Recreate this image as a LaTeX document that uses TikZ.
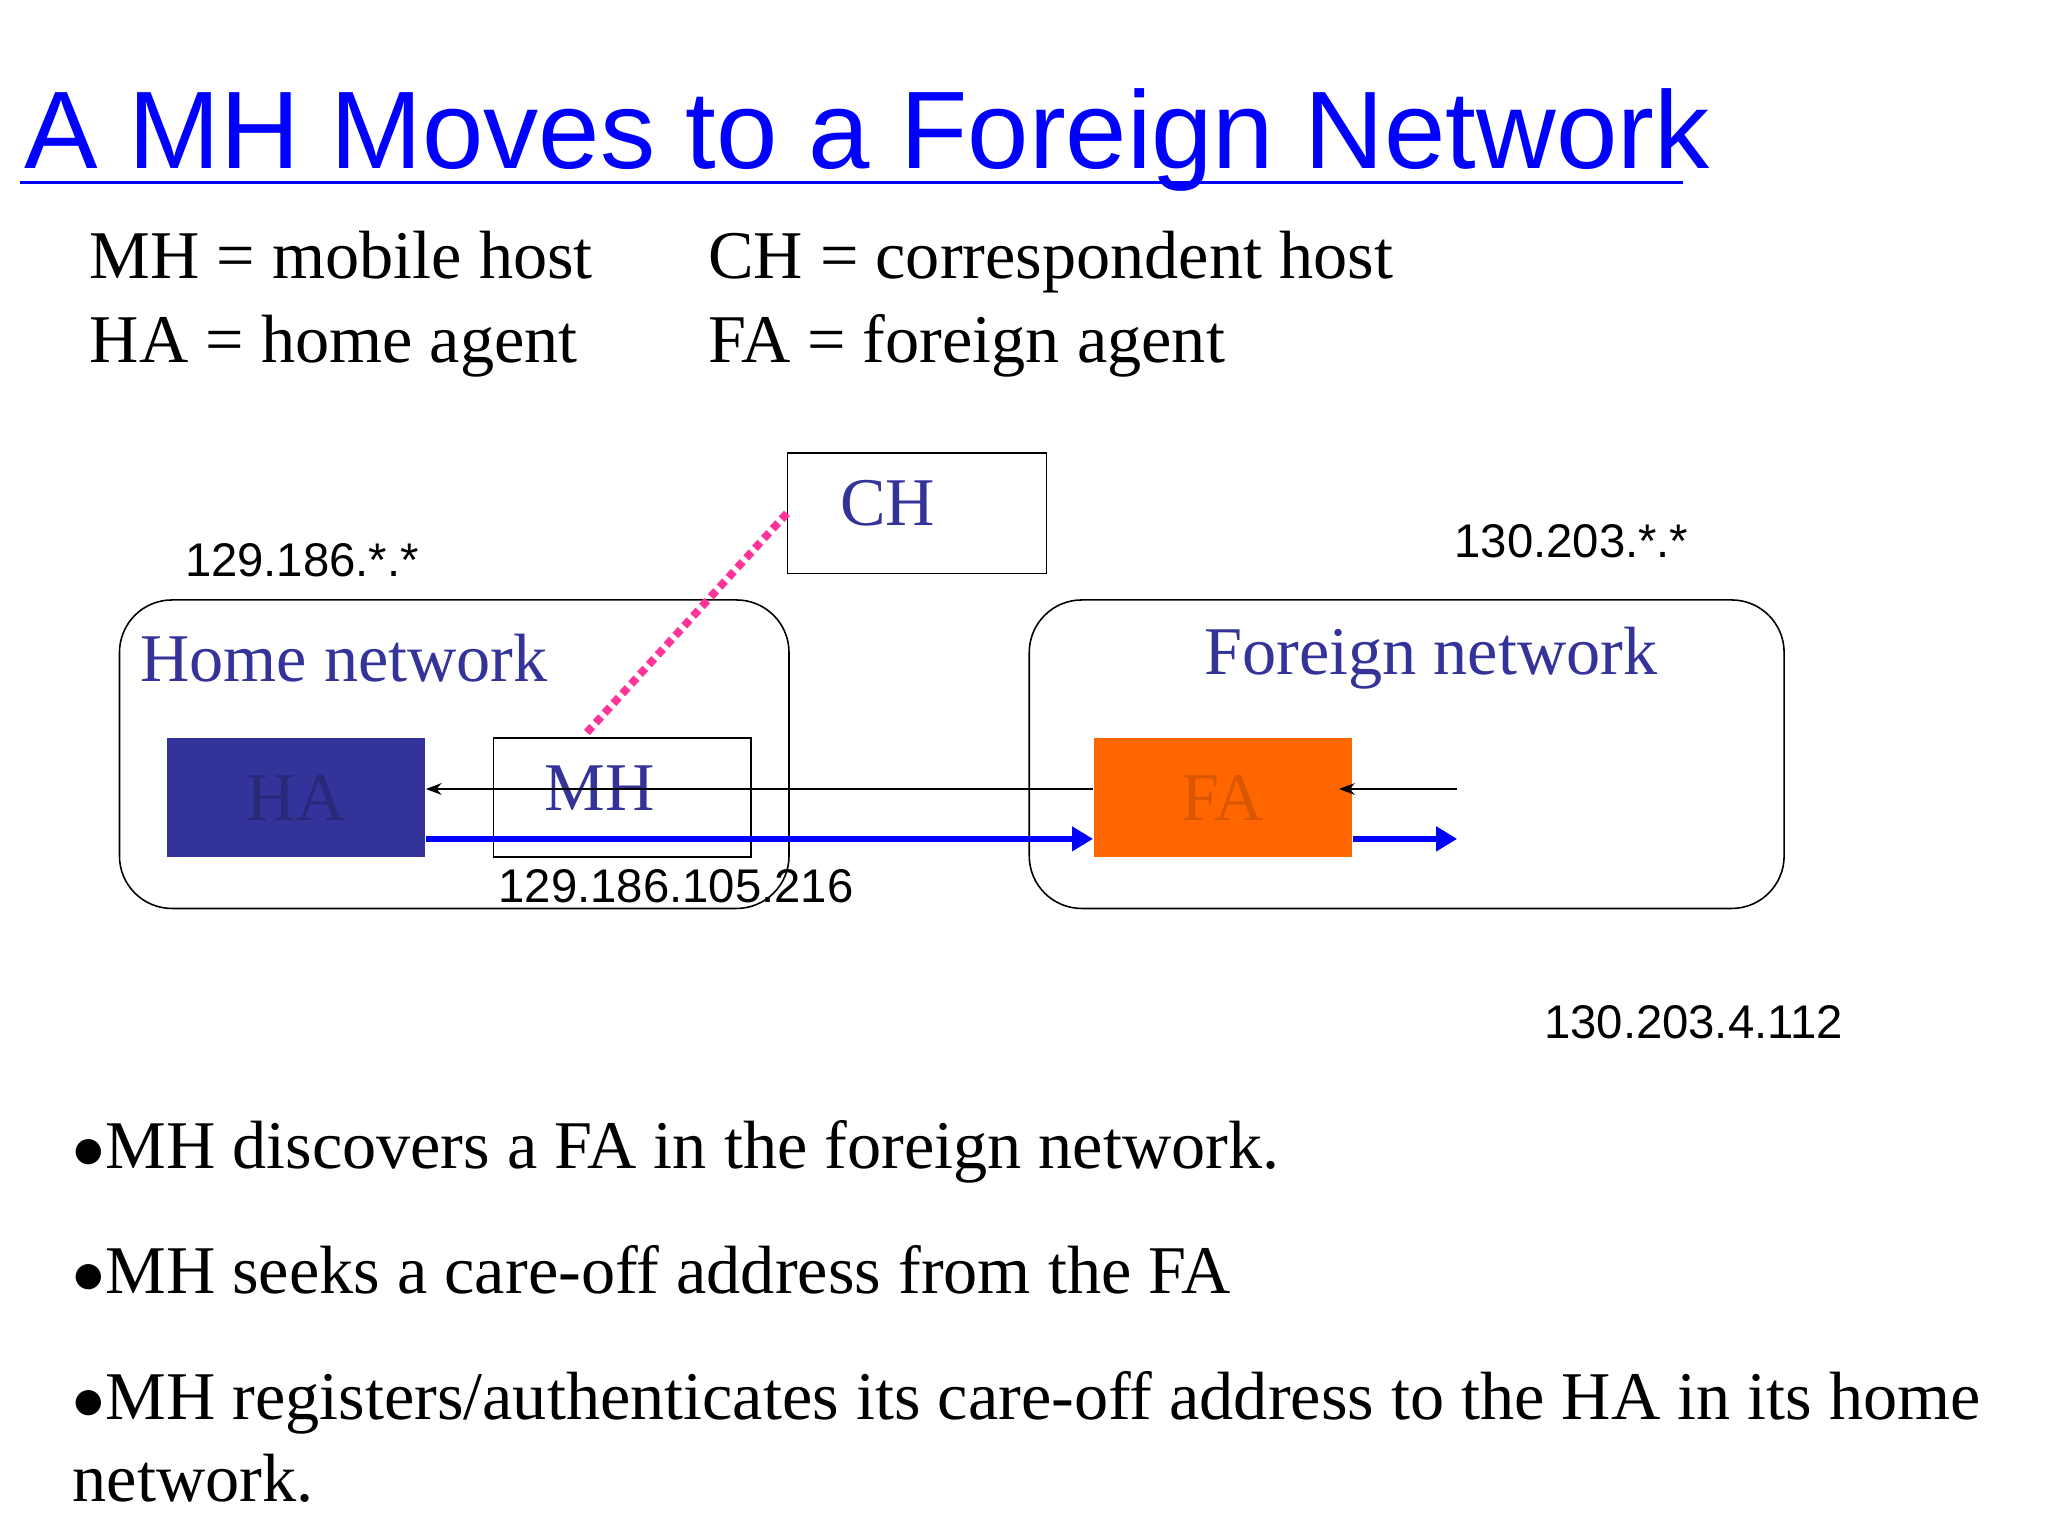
\documentclass[tikz,border=0pt]{standalone}
\usepackage{fontspec}
\setmainfont{Liberation Serif}
\newfontfamily\sansf{Liberation Sans}
\usetikzlibrary{arrows.meta}
\definecolor{navyb}{HTML}{333399}
\definecolor{orng}{HTML}{FF6600}
\definecolor{pinkd}{HTML}{FF3399}
\begin{document}
\begin{tikzpicture}[x=0.5pt,y=-0.5pt,
  txt/.style={font=\fontsize{26}{30}\selectfont, inner sep=0pt},
  ip/.style={font=\sansf\fontsize{18}{21}\selectfont, inner sep=0pt},
  blu/.style={font=\fontsize{26}{30}\selectfont, text=navyb, inner sep=0pt},
  net/.style={draw, rounded corners=20pt, line width=0.6pt},
  agent/.style={draw=none, minimum width=98.5pt, minimum height=45.5pt, inner sep=0pt}]
\useasboundingbox[fill=white] (0,0) rectangle (1560,1170);
\node[anchor=base west, inner sep=0pt, text=blue, font=\sansf\fontsize{42}{46}\selectfont] (title) at (18,128) {A MH Moves to a Foreign Network};
\draw[blue, line width=1.5pt] (15,139) -- (1282,139);
\node[txt, anchor=base west] (d1) at (68,212) {MH = mobile host};
\node[txt, anchor=base west] (d2) at (68,276) {HA = home agent};
\node[txt, anchor=base west] (d3) at (539,212) {CH = correspondent host};
\node[txt, anchor=base west] (d4) at (539,276) {FA = foreign agent};
\draw[net] (91,457) rectangle (601,692);
\draw[net] (784,457) rectangle (1359,692);
\node[blu] (home) at (262,501) {Home network};
\node[blu] (foreign) at (1090,501) {Foreign network};
\node[draw, line width=0.6pt, minimum width=98.5pt, minimum height=46pt, inner sep=0pt] (ch) at (698.5,391) {};
\node[blu] at (676,383) {CH};
\node[ip] (ip1) at (230,427) {129.186.*.*};
\node[ip] (ip2) at (1197,412) {130.203.*.*};
\node[agent, fill=navyb] (ha) at (225.5,607.5) {\textcolor{navyb!80!black}{\fontsize{26}{30}\selectfont HA}};
\node[agent, fill=orng] (fa) at (931.5,607.5) {\textcolor{orng!85!black}{\fontsize{26}{30}\selectfont FA}};
\node[draw, line width=0.6pt, minimum width=98pt, minimum height=45.5pt, inner sep=0pt] (mh) at (474,607.5) {};
\node[blu] at (457,600) {MH};
\coordinate (in1) at (1110,601);
\coordinate (out1) at (1110,639);
\draw[-{Stealth[length=6pt]}, line width=0.5pt] (in1) -- (1020,601);
\draw[-{Stealth[length=6pt]}, line width=0.5pt] (fa.west |- in1) -- (ha.east |- in1);
\draw[-{Triangle[length=8pt,width=9pt]}, blue, line width=2.5pt] (ha.east |- out1) -- (fa.west |- out1);
\draw[-{Triangle[length=8pt,width=9pt]}, blue, line width=2.5pt] (fa.east |- out1) -- (out1);
\draw[pinkd, line width=3pt, dash pattern=on 3pt off 2pt] (ch.west) -- (447,558);
\node[ip] (ip3) at (515,675) {129.186.105.216};
\node[ip] (ip4) at (1290,779) {130.203.4.112};
\node[txt, anchor=base west] (b1) at (55,890) {$\bullet$MH discovers a FA in the foreign network.};
\node[txt, anchor=base west] (b2) at (55,985) {$\bullet$MH seeks a care-off address from the FA};
\node[txt, anchor=base west] (b3) at (55,1081) {$\bullet$MH registers/authenticates its care-off address to the HA in its home};
\node[txt, anchor=base west] (b4) at (55,1144) {network.};
\end{tikzpicture}
\end{document}
